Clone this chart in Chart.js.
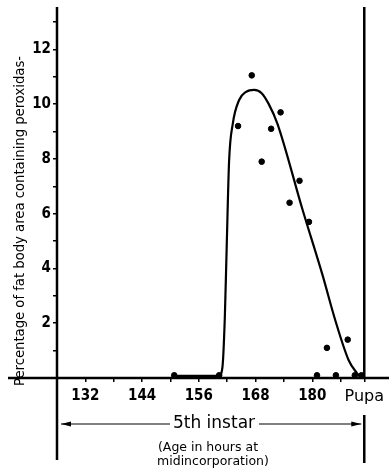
<!DOCTYPE html>
<html>
<head>
<meta charset="utf-8">
<script src="https://cdn.jsdelivr.net/npm/chart.js@4.4.1/dist/chart.umd.min.js"></script>
<style>
  html, body { margin: 0; padding: 0; background: #fff; }
  #wrap { width: 389px; height: 473px; }
</style>
</head>
<body>
<div id="wrap"><canvas id="peroxChart"></canvas></div>
<script>
// fitted curve (hours, percentage)
const curveHours = [151, 160.3, 161, 161.5, 161.9, 162.4, 163.2, 164.5, 166, 167.7, 169.3, 170.8, 172.6, 177.9, 182.1, 184.9, 187.7, 189.4, 190.4];
const curveValues = [0.08, 0.08, 0.4, 2.2, 4.8, 7.9, 9.3, 10.14, 10.45, 10.52, 10.4, 10.0, 9.3, 6.17, 3.8, 2.09, 0.65, 0.19, 0];

// measured points
const dotHours = [150.8, 160.3, 164.3, 167.2, 169.3, 171.3, 173.3, 175.2, 177.3, 179.3, 181, 183.1, 185, 187.5, 189, 190.4];
const dotValues = [0.1, 0.1, 9.2, 11.05, 7.9, 9.1, 9.7, 6.4, 7.2, 5.7, 0.1, 1.1, 0.1, 1.4, 0.1, 0.1];

const xTicks = [132, 138, 144, 150, 156, 162, 168, 174, 180, 186, 191];
const yTicks = [1, 2, 3, 4, 5, 6, 7, 8, 9, 10, 11, 12, 13];
const pupaHour = 191;

const yTitle = 'Percentage of fat body area containing peroxidas-';
const bandLabel = '5th instar';
const captionLines = ['(Age in hours at', ' midincorporation)'];

const numFont = { family: '"Liberation Sans Narrow", "DejaVu Sans Condensed", sans-serif', size: 15, weight: 'bold' };
const textFont = '"DejaVu Sans", sans-serif';

const extras = {
    id: 'extras',
    afterDraw(chart) {
        const ctx = chart.ctx;
        const x = chart.scales.x, y = chart.scales.y;
        const y0 = y.getPixelForValue(0);
        const xl = x.getPixelForValue(126);
        const xr = x.getPixelForValue(pupaHour);
        ctx.save();
        ctx.strokeStyle = '#000';
        ctx.fillStyle = '#000';
        ctx.lineWidth = 2.5;
        ctx.beginPath();
        ctx.moveTo(8, y0); ctx.lineTo(389, y0);
        ctx.moveTo(xl, 7); ctx.lineTo(xl, 460);
        ctx.moveTo(xr, 7); ctx.lineTo(xr, y0);
        ctx.moveTo(xr, 415); ctx.lineTo(xr, 463);
        ctx.stroke();

        // 5th instar arrow
        const ay = 424;
        ctx.lineWidth = 1.2;
        ctx.beginPath();
        ctx.moveTo(xl + 4, ay); ctx.lineTo(170, ay);
        ctx.moveTo(259, ay); ctx.lineTo(xr - 3, ay);
        ctx.stroke();
        ctx.beginPath();
        ctx.moveTo(xl + 4, ay); ctx.lineTo(xl + 14, ay - 2.5); ctx.lineTo(xl + 14, ay + 2.5); ctx.closePath();
        ctx.moveTo(xr - 3, ay); ctx.lineTo(xr - 13, ay - 2.5); ctx.lineTo(xr - 13, ay + 2.5); ctx.closePath();
        ctx.fill();

        ctx.textAlign = 'center';
        ctx.textBaseline = 'middle';
        ctx.font = '17px ' + textFont;
        ctx.fillText(bandLabel, 214, ay);
        ctx.font = '12.5px ' + textFont;
        ctx.fillText(captionLines[0], 208, 448);
        ctx.fillText(captionLines[1], 211, 462);

        // y axis title
        ctx.translate(21, 221);
        ctx.rotate(-Math.PI / 2);
        ctx.font = '13.2px ' + textFont;
        ctx.fillText(yTitle, 0, 0);
        ctx.restore();
    }
};

new Chart(document.getElementById('peroxChart'), {
    type: 'scatter',
    data: {
        datasets: [{
            type: 'line',
            data: curveHours.map((h, i) => ({ x: h, y: curveValues[i] })),
            borderColor: '#000',
            borderWidth: 2.2,
            pointRadius: 0,
            fill: false,
            cubicInterpolationMode: 'monotone'
        }, {
            data: dotHours.map((h, i) => ({ x: h, y: dotValues[i] })),
            backgroundColor: '#000',
            borderColor: '#000',
            pointRadius: 2.8,
            clip: false
        }]
    },
    plugins: [extras],
    options: {
        responsive: true,
        maintainAspectRatio: false,
        animation: false,
        layout: { padding: { top: 8, right: 23, left: 0, bottom: 0 } },
        plugins: { legend: { display: false }, tooltip: { enabled: false } },
        scales: {
            x: {
                type: 'linear',
                min: 126,
                max: pupaHour,
                afterBuildTicks: s => { s.ticks = xTicks.map(v => ({ value: v })); },
                afterFit: s => { s.height = 95; },
                border: { display: false },
                grid: { drawOnChartArea: false, tickLength: 4, color: '#000', lineWidth: 1.5 },
                ticks: {
                    color: '#000',
                    padding: 5,
                    maxRotation: 0,
                    autoSkip: false,
                    font: c => c.tick && c.tick.value === pupaHour
                        ? { family: textFont, size: 16 }
                        : numFont,
                    callback: v => v === pupaHour ? 'Pupa' : (v % 12 === 0 ? String(v) : '')
                }
            },
            y: {
                min: 0,
                max: 13.4,
                afterBuildTicks: s => { s.ticks = yTicks.map(v => ({ value: v })); },
                afterFit: s => { s.width = 57; },
                border: { display: false },
                grid: { drawOnChartArea: false, tickLength: 4, color: '#000', lineWidth: 1.5 },
                ticks: {
                    color: '#000',
                    padding: 2,
                    font: numFont,
                    callback: v => v % 2 === 0 ? String(v) : ''
                }
            }
        }
    }
});
</script>
</body>
</html>
